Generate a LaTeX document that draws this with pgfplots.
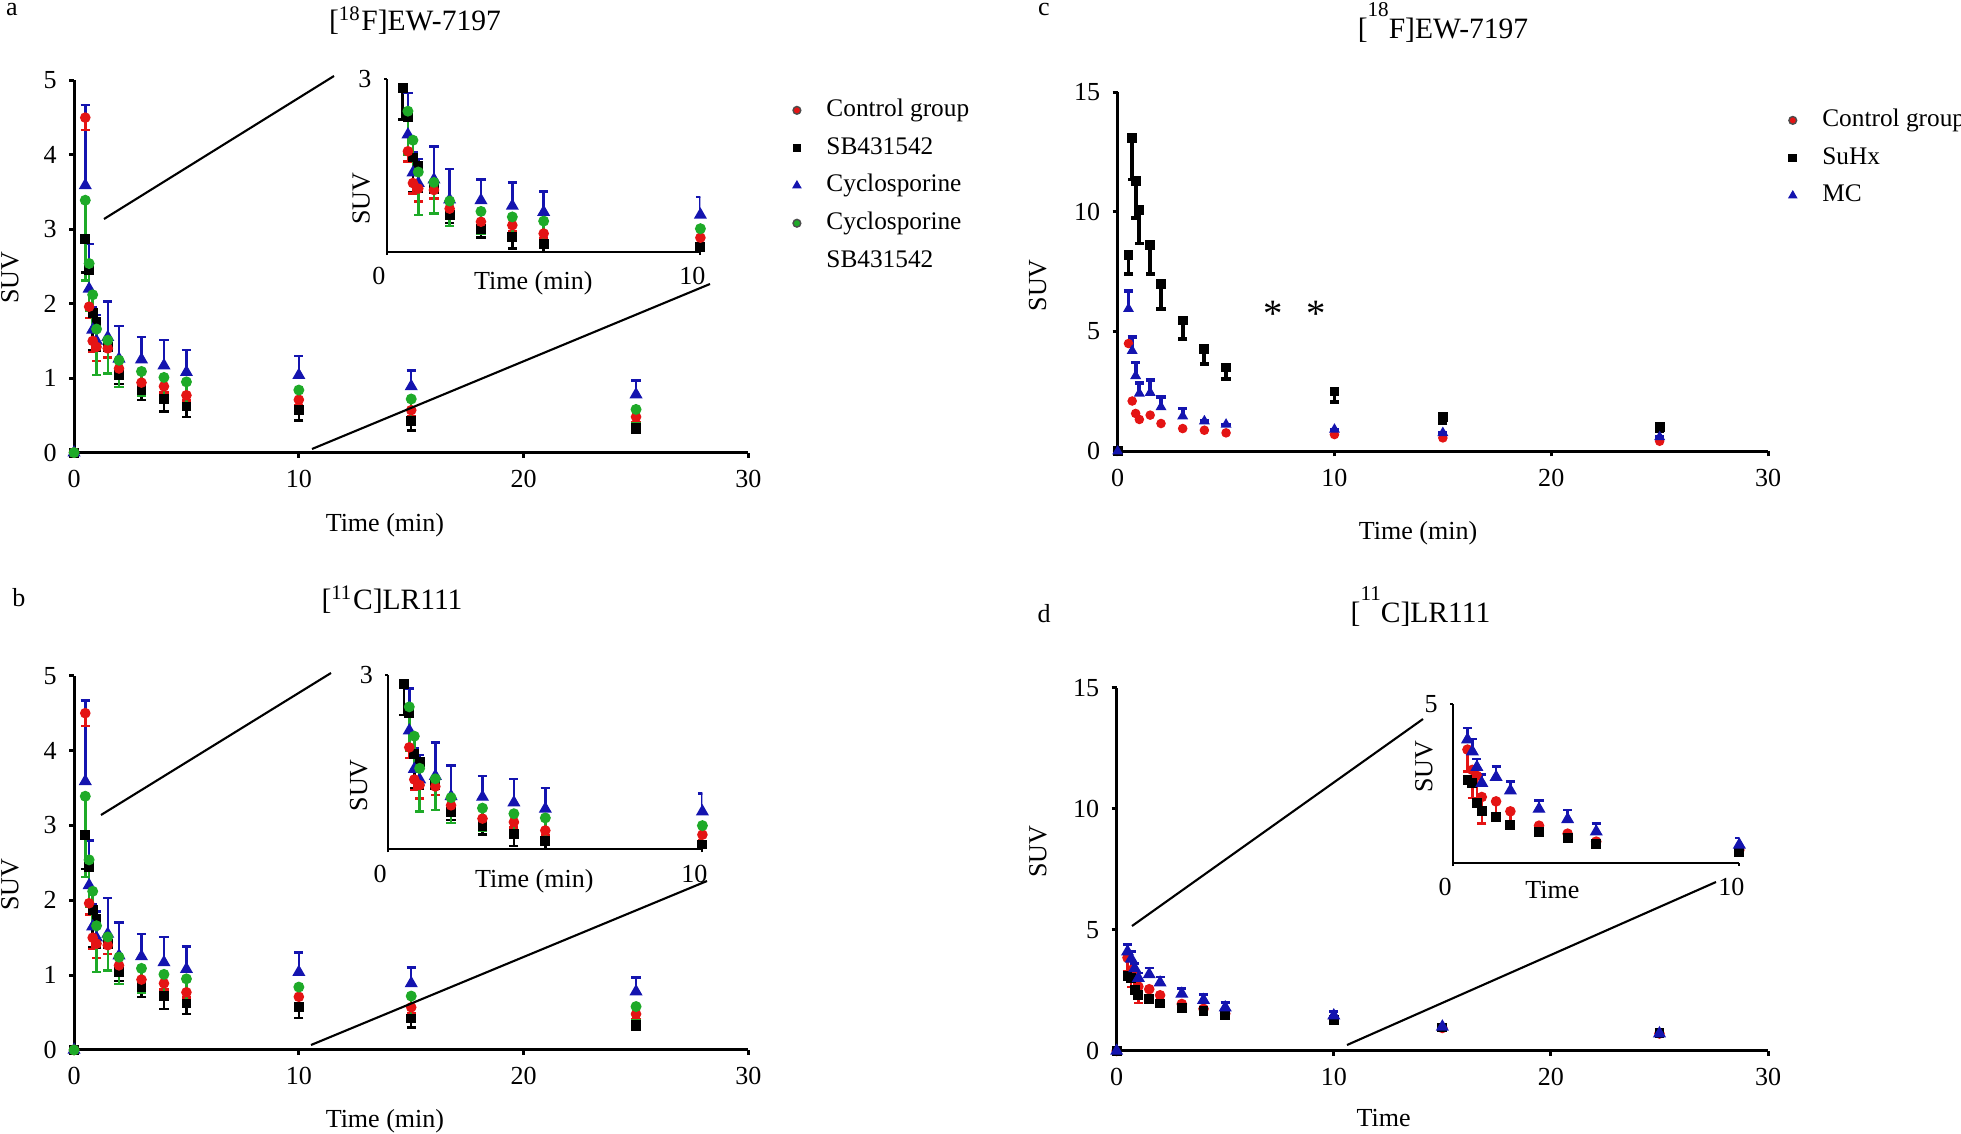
\documentclass[border=0pt]{standalone}
\usepackage{pgfplots}
\pgfplotsset{compat=1.18}
\usepackage{pgfplotstable}
\usepackage{fontspec}
\setmainfont{Liberation Serif}

\definecolor{cred}{RGB}{228,20,20}
\definecolor{cblue}{RGB}{20,20,175}
\definecolor{cgreen}{RGB}{30,170,40}

\newcommand{\fsz}{\fontsize{7.4pt}{9pt}\selectfont}
\newcommand{\tsz}{\fontsize{8.4pt}{10pt}\selectfont}

% panels a and b (same curves): t, mean, error up, error down
\pgfplotstableread{
t y ep em
0 0 0 0
0.5 4.50 0 0.17
0.67 1.96 0 0.15
0.83 1.50 0 0.15
1 1.42 0 0.19
1.5 1.40 0 0.12
2 1.13 0 0.10
3 0.94 0 0.08
4 0.89 0 0.08
5 0.77 0 0.07
10 0.71 0 0.08
15 0.57 0 0.08
25 0.48 0 0.07
}\aCtrl
\pgfplotstableread{
t y ep em
0 0 0 0
0.5 2.87 0 0.45
0.67 2.45 0 0.50
0.83 1.87 0 0.50
1 1.75 0 0.38
1.5 1.42 0 0.36
2 1.04 0 0.12
3 0.84 0 0.13
4 0.72 0 0.17
5 0.62 0 0.14
10 0.57 0 0.14
15 0.42 0 0.12
25 0.33 0 0.06
}\aSB
\pgfplotstableread{
t y ep em
0 0 0 0
0.5 3.59 1.08 0
0.67 2.20 0.60 0
0.83 1.65 0.30 0
1 1.50 0.35 0
1.5 1.55 0.48 0
2 1.26 0.44 0
3 1.25 0.30 0
4 1.17 0.34 0
5 1.08 0.30 0
10 1.04 0.26 0
15 0.89 0.21 0
25 0.78 0.19 0
}\aCyc
\pgfplotstableread{
t y ep em
0 0 0 0
0.5 3.39 0 1.08
0.67 2.54 0 0.63
0.83 2.12 0 0.50
1 1.66 0 0.62
1.5 1.51 0 0.45
2 1.24 0 0.36
3 1.09 0 0.32
4 1.01 0 0.31
5 0.95 0 0.36
10 0.84 0 0.31
15 0.72 0 0.28
25 0.58 0 0.18
}\aCS

% panel c
\pgfplotstableread{
t y ep em
0 0 0 0
0.5 4.50 0 0
0.67 2.10 0 0
0.83 1.58 0 0
1 1.33 0 0
1.5 1.51 0 0
2 1.16 0 0
3 0.95 0 0
4 0.88 0 0
5 0.77 0 0
10 0.70 0 0
15 0.56 0 0
25 0.42 0 0
}\cCtrl
\pgfplotstableread{
t y ep em
0 0 0 0
0.5 8.19 0 0.80
0.67 13.10 0 1.75
0.83 11.27 0 1.54
1 10.08 0 1.40
1.5 8.61 0 1.20
2 7.00 0 1.05
3 5.46 0 0.77
4 4.27 0 0.63
5 3.50 0 0.49
10 2.50 0 0.45
15 1.45 0 0.25
25 1.00 0 0.15
}\cSuHx
\pgfplotstableread{
t y ep em
0 0 0 0
0.5 5.95 0.73 0
0.67 4.20 0.59 0
0.83 3.15 0.56 0
1 2.42 0.42 0
1.5 2.45 0.53 0
2 1.85 0.40 0
3 1.47 0.32 0
4 1.26 0 0
5 1.12 0 0
10 0.91 0 0
15 0.77 0 0
25 0.60 0 0
}\cMC

% panel d
\pgfplotstableread{
t y ep em
0 0 0 0
0.5 3.85 0 0.55
0.67 3.34 0 0.70
0.83 3.19 0 0.60
1 2.66 0 0.67
1.5 2.55 0 0.35
2 2.30 0 0.25
3 1.94 0 0.08
4 1.74 0 0.05
5 1.54 0 0.05
10 1.33 0 0.05
15 0.95 0 0.05
25 0.72 0 0.04
}\dCtrl
\pgfplotstableread{
t y ep em
0 0 0 0
0.5 3.08 0 0.10
0.67 3.01 0 0.10
0.83 2.52 0 0.08
1 2.30 0 0.08
1.5 2.15 0 0.06
2 1.96 0 0.06
3 1.79 0 0.05
4 1.64 0 0.05
5 1.49 0 0.05
10 1.27 0 0.05
15 0.97 0 0.04
25 0.74 0 0.04
}\dSuHx
\pgfplotstableread{
t y ep em
0 0 0 0
0.5 4.10 0.29 0
0.67 3.80 0.31 0
0.83 3.41 0.20 0
1 3.01 0.21 0
1.5 3.16 0.27 0
2 2.82 0.23 0
3 2.36 0.21 0
4 2.10 0.24 0
5 1.79 0.21 0
10 1.46 0.17 0
15 1.00 0.05 0
25 0.72 0.05 0
}\dMC

\pgfplotsset{
  panel/.style={scale only axis, anchor=south west, axis lines=left,
    axis line style={-, line width=0.85pt}, every tick/.style={black, line width=0.85pt},
    tick align=outside, major tick length=0.05cm,
    xmin=0, xmax=30, ymin=0, xtick={0,10,20,30},
    tick label style={font=\fsz}, label style={font=\fsz},
    /pgf/number format/assume math mode=true},
  inset/.style={scale only axis, anchor=south west, axis lines=left,
    axis line style={-, line width=0.6pt}, every tick/.style={black, line width=0.6pt},
    tick align=outside, major tick length=0.03cm,
    xmin=0, xmax=10, xtick={0,10},
    tick label style={font=\fsz}, label style={font=\fsz},
    xticklabel style={xshift=-0.08cm},
    /pgf/number format/assume math mode=true,
    restrict x to domain=-0.1:10.2},
  errup/.style={only marks, error bars/y dir=plus, error bars/y explicit,
    error bars/error bar style={line width=#1},
    error bars/error mark options={rotate=90, mark size=1.3pt, line width=#1}},
  errdn/.style={only marks, error bars/y dir=minus, error bars/y explicit,
    error bars/error bar style={line width=#1},
    error bars/error mark options={rotate=90, mark size=1.3pt, line width=#1}},
  sRed/.style={errdn=0.7pt, color=cred, mark=*, mark size=1.3pt},
  sBlack/.style={errdn=#1, color=black, mark=square*, mark size=1.2pt},
  sBlack/.default=0.7pt,
  sBlue/.style={errup=#1, color=cblue, mark=triangle*, mark size=1.75pt},
  sBlue/.default=0.7pt,
  sGreen/.style={errdn=0.7pt, color=cgreen, mark=*, mark size=1.35pt},
  lgd/.style={legend style={draw=none, fill=none, inner sep=0pt,
      font=\fontsize{7.2pt}{8.6pt}\selectfont, row sep=3.8pt, column sep=7.3pt,
      nodes={inner sep=0pt, text height=5.2pt, text depth=1.7pt}},
    legend cell align=left,
    legend image code/.code={\draw[##1] plot coordinates {(0.1cm,0cm)};}},
}

\begin{document}
\begin{tikzpicture}[x=0.01cm, y=0.01cm]
\useasboundingbox (0,0) rectangle (1961,1133);

% ---------- panel a ----------
\begin{axis}[panel, lgd, at={(0.74cm,6.80cm)}, width=6.74cm, height=3.72cm,
  ymax=5, ytick={0,1,2,3,4,5},
  xlabel={Time (min)}, ylabel={SUV},
  xlabel style={at={(axis description cs:0.461,-0.194)}, anchor=center},
  ylabel style={at={(axis description cs:-0.095,0.47)}, anchor=center},
  legend style={at={(axis description cs:1.056,0.954)}, anchor=north west}]
\addlegendimage{only marks, mark=*, mark size=1.1pt, color=cred, mark options={draw=black!70}}
\addlegendentry{Control group}
\addlegendimage{only marks, mark=square*, mark size=1.05pt, color=black}
\addlegendentry{SB431542}
\addlegendimage{only marks, mark=triangle*, mark size=1.2pt, color=cblue}
\addlegendentry{Cyclosporine}
\addlegendimage{only marks, mark=*, mark size=1.1pt, color=cgreen, mark options={draw=black!70}}
\addlegendentry{Cyclosporine}
\addlegendimage{empty legend}
\addlegendentry{SB431542}
\addplot[sBlack, forget plot] table[x=t, y=y, y error plus=ep, y error minus=em] {\aSB};
\addplot[sBlue, forget plot] table[x=t, y=y, y error plus=ep, y error minus=em] {\aCyc};
\addplot[sRed, forget plot] table[x=t, y=y, y error plus=ep, y error minus=em] {\aCtrl};
\addplot[sGreen, forget plot] table[x=t, y=y, y error plus=ep, y error minus=em] {\aCS};
\end{axis}

\begin{axis}[inset, at={(3.867cm,8.803cm)}, width=3.133cm, height=1.727cm,
  ymin=0.5, ymax=3, ytick={3}, restrict y to domain=0.45:3.05,
  xlabel={Time (min)}, ylabel={SUV},
  xlabel style={at={(axis description cs:0.467,-0.181)}, anchor=center},
  ylabel style={at={(axis description cs:-0.082,0.311)}, anchor=center}]
\addplot[sBlack] table[x=t, y=y, y error plus=ep, y error minus=em] {\aSB};
\addplot[sBlue] table[x=t, y=y, y error plus=ep, y error minus=em] {\aCyc};
\addplot[sRed] table[x=t, y=y, y error plus=ep, y error minus=em] {\aCtrl};
\addplot[sGreen] table[x=t, y=y, y error plus=ep, y error minus=em] {\aCS};
\end{axis}

% ---------- panel b ----------
\begin{axis}[panel, at={(0.74cm,0.83cm)}, width=6.74cm, height=3.74cm,
  ymax=5, ytick={0,1,2,3,4,5},
  xlabel={Time (min)}, ylabel={SUV},
  xlabel style={at={(axis description cs:0.461,-0.19)}, anchor=center},
  ylabel style={at={(axis description cs:-0.095,0.441)}, anchor=center}]
\addplot[sBlack] table[x=t, y=y, y error plus=ep, y error minus=em] {\aSB};
\addplot[sBlue] table[x=t, y=y, y error plus=ep, y error minus=em] {\aCyc};
\addplot[sRed] table[x=t, y=y, y error plus=ep, y error minus=em] {\aCtrl};
\addplot[sGreen] table[x=t, y=y, y error plus=ep, y error minus=em] {\aCS};
\end{axis}

\begin{axis}[inset, at={(3.88cm,2.835cm)}, width=3.14cm, height=1.745cm,
  ymin=0.5, ymax=3, ytick={3}, restrict y to domain=0.45:3.05,
  xlabel={Time (min)}, ylabel={SUV},
  xlabel style={at={(axis description cs:0.465,-0.18)}, anchor=center},
  ylabel style={at={(axis description cs:-0.094,0.366)}, anchor=center}]
\addplot[sBlack] table[x=t, y=y, y error plus=ep, y error minus=em] {\aSB};
\addplot[sBlue] table[x=t, y=y, y error plus=ep, y error minus=em] {\aCyc};
\addplot[sRed] table[x=t, y=y, y error plus=ep, y error minus=em] {\aCtrl};
\addplot[sGreen] table[x=t, y=y, y error plus=ep, y error minus=em] {\aCS};
\end{axis}

% ---------- panel c ----------
\begin{axis}[panel, lgd, at={(11.17cm,6.813cm)}, width=6.5cm, height=3.59cm,
  ymax=15, ytick={0,5,10,15},
  xlabel={Time (min)}, ylabel={SUV},
  xlabel style={at={(axis description cs:0.462,-0.229)}, anchor=center},
  ylabel style={at={(axis description cs:-0.123,0.462)}, anchor=center},
  legend style={at={(axis description cs:1.031,0.957)}, anchor=north west}]
\addlegendimage{only marks, mark=*, mark size=1.1pt, color=cred, mark options={draw=black!70}}
\addlegendentry{Control group}
\addlegendimage{only marks, mark=square*, mark size=1.05pt, color=black}
\addlegendentry{SuHx}
\addlegendimage{only marks, mark=triangle*, mark size=1.2pt, color=cblue}
\addlegendentry{MC}
\addplot[only marks, color=cred, mark=*, mark size=1.15pt, forget plot] table[x=t, y=y] {\cCtrl};
\addplot[sBlack=1.1pt, forget plot] table[x=t, y=y, y error plus=ep, y error minus=em] {\cSuHx};
\addplot[sBlue=1.1pt, mark size=1.4pt, forget plot] table[x=t, y=y, y error plus=ep, y error minus=em] {\cMC};
\node[font=\fontsize{11pt}{11pt}\selectfont] at (axis cs:7.15,5.75) {*};
\node[font=\fontsize{11pt}{11pt}\selectfont] at (axis cs:9.15,5.75) {*};
\end{axis}

% ---------- panel d ----------
\begin{axis}[panel, at={(11.16cm,0.82cm)}, width=6.51cm, height=3.63cm,
  ymax=15, ytick={0,5,10,15},
  xlabel={Time}, ylabel={SUV},
  xlabel style={at={(axis description cs:0.41,-0.185)}, anchor=center},
  ylabel style={at={(axis description cs:-0.121,0.548)}, anchor=center}]
\addplot[sRed] table[x=t, y=y, y error plus=ep, y error minus=em] {\dCtrl};
\addplot[sBlack] table[x=t, y=y, y error plus=ep, y error minus=em] {\dSuHx};
\addplot[sBlue] table[x=t, y=y, y error plus=ep, y error minus=em] {\dMC};
\end{axis}

\begin{axis}[inset, at={(14.523cm,2.697cm)}, width=2.86cm, height=1.593cm,
  ymin=1, ymax=5, ytick={5}, restrict y to domain=0.95:5.05,
  xlabel={Time}, ylabel={SUV},
  xlabel style={at={(axis description cs:0.347,-0.168)}, anchor=center},
  ylabel style={at={(axis description cs:-0.102,0.605)}, anchor=center}]
\addplot[sRed] table[x=t, y=y, y error plus=ep, y error minus=em] {\dCtrl};
\addplot[sBlack] table[x=t, y=y, y error plus=ep, y error minus=em] {\dSuHx};
\addplot[sBlue] table[x=t, y=y, y error plus=ep, y error minus=em] {\dMC};
\end{axis}

% zoom guide lines
\draw[line width=0.6pt] (104,914) -- (334,1057);
\draw[line width=0.6pt] (312,684) -- (710,849);
\draw[line width=0.6pt] (101,318) -- (331,460);
\draw[line width=0.6pt] (311,88) -- (707,252);
\draw[line width=0.6pt] (1132,207) -- (1423,414);
\draw[line width=0.6pt] (1347,88) -- (1716,251);

% titles and panel letters
\node[font=\tsz] at (415,1112) {[\textsuperscript{18}F]EW-7197};
\node[font=\tsz] at (392,533) {[\textsuperscript{11}C]LR111};
\node[font=\tsz] at (1443,1110.6) {[\raisebox{6.4pt}{\fontsize{6pt}{7pt}\selectfont 18}F]EW-7197};
\node[font=\tsz] at (1420.5,526.5) {[\raisebox{6.3pt}{\fontsize{6pt}{7pt}\selectfont 11}C]LR111};
\node[font=\fsz] at (12,1123) {a};
\node[font=\fsz] at (19,535) {b};
\node[font=\fsz] at (1044,1123) {c};
\node[font=\fsz] at (1044,519.5) {d};
\end{tikzpicture}
\end{document}
